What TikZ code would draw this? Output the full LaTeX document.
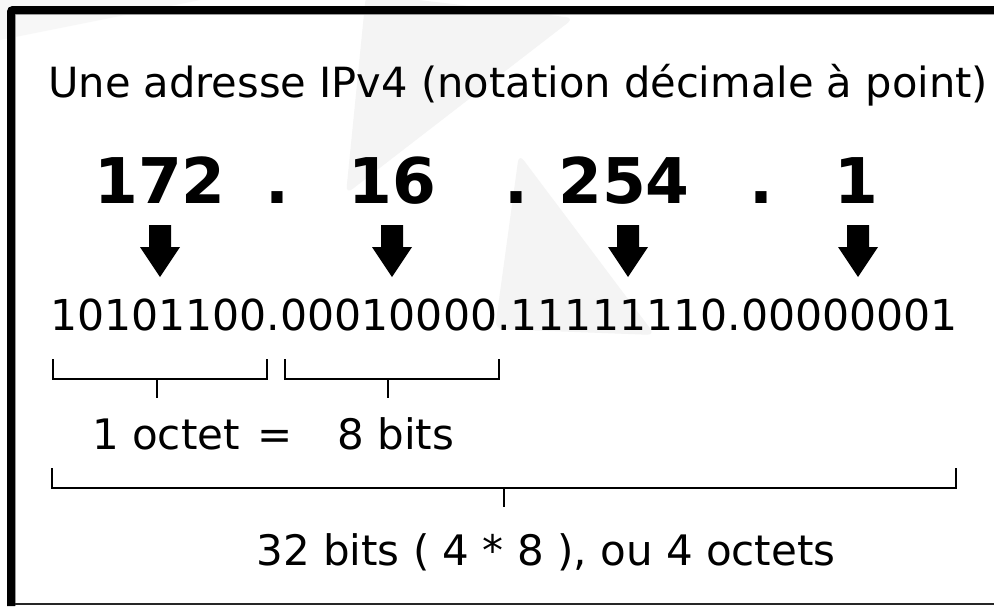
\documentclass[tikz,border=0pt]{standalone}
\usepackage{fontspec}
\setmainfont{DejaVu Sans}
\definecolor{wm}{RGB}{244,244,244}
\tikzset{
  txt/.style={inner sep=0pt, anchor=base, font=\fontsize{42}{50}\selectfont},
  ttl/.style={inner sep=0pt, anchor=base west, font=\fontsize{41.6}{50}\selectfont},
  bin/.style={inner sep=0pt, anchor=base west, font=\fontsize{42.6}{50}\selectfont},
  num/.style={inner sep=0pt, anchor=base, font=\fontsize{63}{75}\selectfont\bfseries},
  brk/.style={line width=2pt, line cap=butt, line join=miter, draw=black},
  downarr/.pic={\fill[black] (-11,0) -- (11,0) -- (11,22) -- (20,22) -- (0,52) -- (-20,22) -- (-11,22) -- cycle;}
}
\begin{document}
\begin{tikzpicture}[x=1pt,y=-1pt]
\useasboundingbox (0,0) rectangle (994,606);
\fill[white] (0,0) rectangle (994,606);
% faint watermark shapes
\fill[wm, rounded corners=8pt] (366,-6) -- (574,18) -- (346,194) -- cycle;
\fill[wm, rounded corners=8pt] (519,154) -- (655,335) -- (495,329) -- cycle;
\fill[wm!70!white] (0,0) -- (200,0) -- (0,40) -- cycle;
% frame
\draw[gray!60, line width=0.8pt] (15.4,606) -- (15.4,14.4) -- (994,14.4);
\draw[line width=8pt, rounded corners=2pt] (11,606) -- (11,10) -- (994,10);
\draw[black!85, line width=2pt] (15,604) -- (994,604);
% title
\node[ttl] (title) at (48,97) {Une adresse IPv4 (notation décimale à point)};
% decimal numbers
\node[num] (n1) at (160,203) {172};
\node[num] (d1) at (277,203) {.};
\node[num] (n2) at (392,203) {16};
\node[num] (d2) at (516,203) {.};
\node[num] (n3) at (624,203) {254};
\node[num] (d3) at (761,203) {.};
\node[num] (n4) at (856,203) {1};
% arrows
\coordinate (a1) at (160,225);
\coordinate (a2) at (392,225);
\coordinate (a3) at (628,225);
\coordinate (a4) at (858,225);
\pic at (a1) {downarr};
\pic at (a2) {downarr};
\pic at (a3) {downarr};
\pic at (a4) {downarr};
% binary
\node[bin] (binary) at (50,330) {10101100.00010000.11111110.00000001};
% byte brackets
\draw[brk] (53,359) -- (53,379) -- (267,379) -- (267,359);
\draw[brk] (157,379) -- (157,398);
\draw[brk] (285,359) -- (285,379) -- (499,379) -- (499,359);
\draw[brk] (388,379) -- (388,398);
\node[txt] (oct) at (166,449) {1 octet};
\node[txt] (eq) at (275,449) {=};
\node[txt] (bits) at (396,449) {8 bits};
% total bracket
\draw[brk] (52,468) -- (52,488) -- (956,488) -- (956,468);
\draw[brk] (504,488) -- (504,507);
\node[txt] (total) at (546,565) {32 bits ( 4 * 8 ), ou 4 octets};
\end{tikzpicture}
\end{document}
